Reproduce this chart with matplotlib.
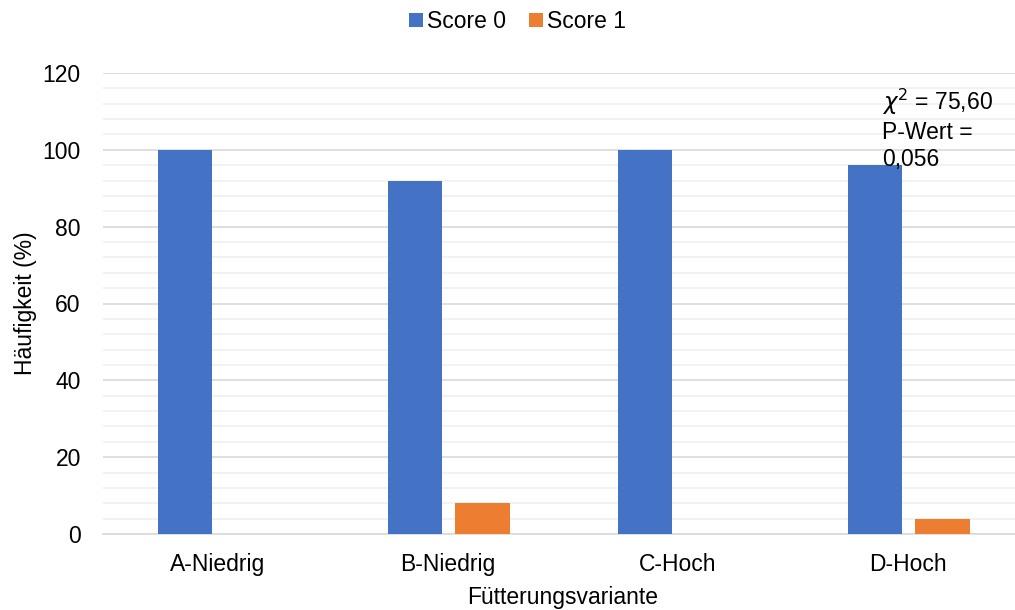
import matplotlib.pyplot as plt
import numpy as np

plt.rcParams['font.family'] = ['Liberation Sans', 'DejaVu Sans']

# Häufigkeit je Fütterungsvariante
varianten = ['A-Niedrig', 'B-Niedrig', 'C-Hoch', 'D-Hoch']
score_0 = [100, 92, 100, 96]
score_1 = [0, 8, 0, 4]

fs = 16.5

fig = plt.figure(figsize=(10.15, 6.1), dpi=100)
ax = fig.add_axes([103 / 1015, 76 / 610, 920 / 1015, 461 / 610])

x = np.arange(len(varianten))
w = 0.235
ax.bar(x - 0.142, score_0, w, color='#4472C4', label='Score 0', zorder=3)
ax.bar(x + 0.150, score_1, w, color='#ED7D31', label='Score 1', zorder=3)

ax.set_xlim(-0.5, 3.5)
ax.set_ylim(0, 120)
ax.set_yticks(range(0, 121, 20))
ax.set_yticks(range(0, 121, 4), minor=True)
ax.grid(axis='y', which='major', color='#d9d9d9', lw=1.2, zorder=0)
ax.grid(axis='y', which='minor', color='#f0f0f0', lw=1.2, zorder=0)
ax.set_xticks(x)
ax.set_xticklabels(varianten)
ax.tick_params(axis='both', which='both', length=0, labelsize=fs, pad=14)
ax.tick_params(axis='y', pad=16)
for s in ['top', 'right', 'left']:
    ax.spines[s].set_visible(False)
ax.spines['bottom'].set_color('#d9d9d9')
ax.spines['bottom'].set_linewidth(1.2)

ax.set_xlabel('Fütterungsvariante', fontsize=fs, labelpad=7)
ax.set_ylabel('Häufigkeit (%)', fontsize=fs, labelpad=4)

ax.text(2.888, 116.3, '$\\chi^2$ = 75,60\nP-Wert =\n0,056', fontsize=fs,
        va='top', ha='left', linespacing=1.2, zorder=4)

fig.legend(loc='upper center', bbox_to_anchor=(0.51, 1.017), ncol=2, frameon=False,
           fontsize=fs, handlelength=0.6, handleheight=0.6, handletextpad=0.2,
           columnspacing=1.0)

fig.savefig('out.png', dpi=100)
